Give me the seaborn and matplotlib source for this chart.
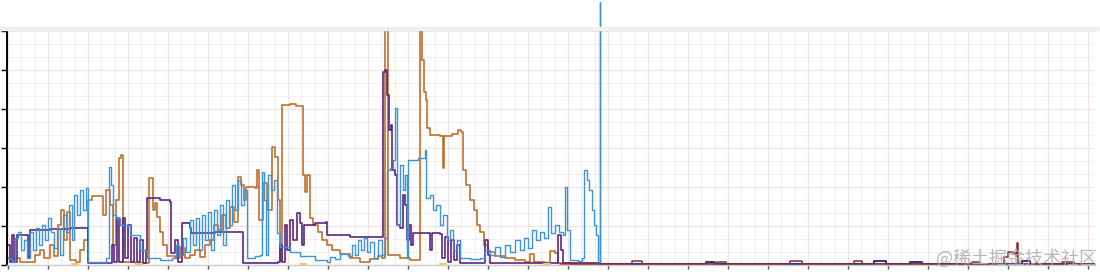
import numpy as np
import pandas as pd
import matplotlib
matplotlib.use("Agg")
import matplotlib.pyplot as plt
from matplotlib.ticker import MultipleLocator
from matplotlib.patches import Rectangle
import seaborn as sns

# ---------------- data ----------------
orange_x = [0, 3, 6.25, 6.75, 8, 9, 10.5, 11.5, 12.5, 13.25, 14, 14.75, 15.5, 17, 18, 19, 20, 21, 23, 23.75,
            24.5, 25.5, 26.25, 27, 27.75, 28.25, 28.75, 31.75, 34.75, 35.25, 35.75, 36.25, 36.75, 37.25, 38,
            38.75, 39.75, 41.75, 43, 44.25, 45.5, 46.75, 48, 49.25, 50.5, 51.5, 52.5, 53.5, 54.5, 55.5, 56.5,
            57.5, 58.25, 59, 59.5, 61.75, 62.25, 62.75, 63.75, 64.75, 66, 66.75, 67.5, 68, 68.5, 70.5, 72,
            73.5, 73.75, 74.25, 74.75, 75.5, 76.25, 77.5, 78.5, 79.75, 81, 83, 85.5, 88, 90.5, 92.5, 93.5,
            94.25, 94.75, 95, 98, 100.5, 102.5, 103, 103.5, 104, 104.5, 104.75, 105.5, 108, 108.75, 109, 111,
            112.5, 113.25, 113.75, 114.5, 115.5, 116.5, 117.25, 118, 119, 120, 121.75, 124.25, 126.75, 129.25,
            130.5, 131.5, 134.25, 135.5, 136.75, 137.5, 140.5, 148, 271.75]
orange_y = [1.8, 0.8, 0.8, 2.6, 3.8, 1.8, 5.1, 2.3, 10.3, 14.1, 6.4, 13.6, 1.3, 0.8, 3.8, 6.4, 16.7, 17.7, 17.7,
            12.8, 19.2, 15.4, 5.1, 16.7, 27.4, 28.2, 0.8, 0.5, 0.5, 22.3, 22.3, 14.1, 15.9, 12.3, 8.5, 5.1, 2.3,
            1.8, 4.4, 1.8, 2.6, 3.8, 2.1, 5.1, 6.4, 10.3, 9.0, 12.8, 9.5, 14.9, 11.0, 22.6, 20.5, 16.7, 20.0,
            19.7, 24.4, 11.5, 21.0, 14.1, 30.3, 27.7, 16.7, 1.3, 41.0, 41.3, 40.8, 40.8, 23.1, 18.7, 23.1, 12.1,
            10.3, 8.5, 6.4, 5.1, 3.8, 2.8, 1.8, 0.8, 1.5, 2.3, 1.8, 60.5, 60.5, 2.6, 1.8, 1.3, 1.3, 60.5, 52.6,
            44.4, 42.3, 35.1, 33.3, 33.1, 24.9, 33.1, 33.6, 34.6, 34.1, 24.4, 20.5, 16.7, 14.1, 10.3, 8.5, 5.1,
            3.3, 2.3, 1.8, 1.3, 0.8, 2.8, 0.8, 0.5, 3.6, 3.1, 0.5, 0.3, 0.3, 0.3]

blue_x = [0, 1, 1.75, 2.5, 3.25, 4, 4.75, 5.5, 6.25, 7, 7.75, 8.5, 9.25, 10, 10.75, 11.5, 12.25, 13, 13.75,
          14.5, 15.25, 16, 16.5, 17.25, 18, 18.75, 19.5, 20, 23, 24.5, 25.25, 25.75, 26.25, 27, 28, 30.5, 33,
          34.75, 38, 41, 42, 42.75, 43.75, 44.5, 45.5, 46.25, 47, 47.75, 48.5, 49.25, 50, 50.75, 51.5, 52.25,
          53, 53.75, 54.5, 55.25, 56, 56.75, 57.5, 58.25, 59, 59.75, 61.75, 63, 63.5, 64, 64.5, 65, 65.75,
          66.5, 67.25, 68, 70.5, 73, 76.75, 79.75, 80.5, 81.75, 83, 85, 86, 86.75, 87.5, 88.25, 89, 89.75,
          90.5, 91.5, 92.5, 93.5, 94.25, 94.75, 95.5, 96.25, 96.75, 97.25, 98, 98.75, 99.25, 99.75, 100,
          102.5, 104.25, 104.5, 105.5, 106.25, 107, 108, 108.75, 109.75, 110.5, 111.25, 112.25, 113, 115.5,
          118, 119.25, 120.5, 121.75, 123, 124.25, 125.5, 126.75, 128, 129, 130, 131, 132, 133, 134, 135,
          135.75, 136.75, 137.75, 138.75, 139.25, 139.75, 140.5, 142.5, 143.5, 144, 144.75, 145.25, 146,
          146.5, 147, 147.5, 148.1, 148.1, 148.1, 149]
blue_y = [1.8, 0.8, 6.9, 8.5, 3.8, 6.4, 1.8, 8.5, 3.8, 9.5, 5.1, 10.3, 6.4, 12.1, 8.5, 4.4, 9.5, 2.6, 12.8, 8.5,
          15.4, 6.4, 17.9, 12.8, 19.2, 14.1, 19.7, 0.8, 0.8, 1.8, 25.1, 20.5, 12.8, 12.1, 10.3, 7.7, 3.8, 1.8,
          1.3, 1.8, 5.1, 2.6, 6.9, 3.3, 11.5, 5.1, 12.1, 3.8, 12.8, 6.4, 13.6, 3.8, 14.1, 7.7, 15.4, 5.1, 16.7,
          10.3, 20.5, 14.1, 21.8, 15.4, 19.2, 1.8, 2.3, 2.6, 23.8, 16.7, 2.6, 23.1, 19.2, 21.8, 8.2, 4.6, 3.3,
          2.3, 1.3, 0.8, 2.1, 1.5, 2.8, 2.3, 5.1, 2.6, 6.4, 3.8, 6.9, 3.3, 5.9, 1.8, 6.4, 2.6, 6.9, 24.4, 24.9,
          26.9, 40.3, 10.3, 25.6, 19.2, 23.1, 1.8, 26.9, 27.4, 29.5, 17.2, 17.9, 14.1, 15.4, 10.3, 12.8, 6.4,
          9.0, 3.8, 6.4, 1.8, 1.5, 1.8, 3.8, 2.6, 4.6, 2.1, 5.1, 3.3, 6.4, 3.8, 6.9, 4.4, 9.0, 6.4, 8.5, 6.9,
          14.9, 8.2, 10.3, 8.5, 7.7, 20.0, 9.0, 1.3, 1.0, 1.8, 24.4, 21.8, 19.2, 14.1, 10.3, 7.7, 0.0, 67.5,
          0.0, 0.3, 0.3]

purple_x = [0, 0.5, 1, 1.5, 2.25, 4.75, 5, 5.5, 10.5, 15.5, 19.75, 20, 25.5, 26, 26.5, 27.25, 27.75, 28.75,
            29.25, 30, 30.75, 31.5, 32.25, 33, 33.75, 34.5, 34.75, 38, 40.5, 40.75, 41.75, 42.5, 43.5, 45.5,
            45.75, 51.75, 58.5, 58.75, 63, 67.5, 68, 68.5, 69.25, 69.75, 70.5, 71.25, 72.25, 73, 73.5, 74,
            76.75, 79.5, 79.75, 85.5, 93.25, 93.75, 94.25, 94.75, 95.25, 95.75, 96, 96.75, 97.25, 98, 98.75,
            99.25, 99.75, 100.25, 100.75, 101.25, 104.25, 105, 105.5, 106, 108, 108.5, 109.25, 110, 110.75,
            111.5, 112.25, 113, 118.75, 119.25, 120, 120.5, 137, 137.5, 138.25, 138.75, 148]
purple_y = [5.1, 0.8, 7.7, 0.8, 7.7, 7.7, 2.1, 9.0, 9.2, 9.5, 9.5, 0.5, 0.5, 5.1, 0.8, 12.1, 0.8, 12.1, 1.8,
            10.3, 0.8, 6.9, 0.8, 6.4, 0.5, 3.8, 17.2, 16.7, 16.2, 3.1, 6.4, 0.8, 10.8, 9.5, 8.2, 8.5, 8.5, 0.5,
            0.5, 0.8, 5.1, 0.8, 10.3, 3.8, 11.5, 6.4, 13.3, 10.8, 5.1, 10.3, 10.8, 11.0, 7.7, 7.2, 7.2, 49.5,
            50.0, 43.6, 34.6, 35.9, 24.4, 23.1, 10.3, 9.5, 17.9, 15.4, 6.4, 10.3, 5.1, 8.2, 8.2, 8.2, 3.8, 8.2,
            7.9, 1.8, 7.2, 0.8, 6.4, 1.3, 5.1, 0.5, 0.5, 6.4, 2.6, 0.5, 0.5, 7.7, 3.8, 0.5, 0.3]

maroon_x = [138, 155.5, 156, 158, 158.5, 173, 177, 179, 179.5, 195, 195.5, 198, 198.5, 211, 211.5, 213, 213.5,
            240.5, 241, 242.5, 243, 248.5, 249, 250, 251.25, 252, 252.25, 252.5, 263, 263.5, 266, 266.5,
            271.75]
maroon_y = [0.3, 0.3, 1.0, 1.0, 0.3, 0.3, 0.8, 0.8, 0.3, 0.3, 1.0, 1.0, 0.3, 0.3, 1.0, 1.0, 0.3, 0.3, 0.8,
            0.8, 0.3, 0.3, 2.1, 3.3, 3.1, 2.3, 5.6, 0.3, 0.3, 0.8, 0.8, 0.3, 0.3]

navy_x = [148, 174, 174.5, 176, 176.5, 216, 216.5, 219, 219.5, 225, 225.5, 228, 228.5, 253, 253.5, 255, 255.5,
          271.75]
navy_y = [0.2, 0.2, 0.8, 0.8, 0.2, 0.2, 1.0, 1.0, 0.2, 0.2, 0.8, 0.8, 0.2, 0.2, 1.0, 1.0, 0.2, 0.2]

yellow_x = [16, 17.5, 32, 33.5, 73, 74.5, 108, 109.5, 134, 135.5]
yellow_seg = [0, 0, 1, 1, 2, 2, 3, 3, 4, 4]
yellow_y = [0.3] * 10

watermark = "@稀土掘金技术社区"

# ---------------- figure ----------------
sns.set_theme(style="white")
plt.rcParams['font.family'] = ['Noto Sans CJK SC', 'DejaVu Sans']

W, H = 1100, 274
fig = plt.figure(figsize=(W / 100, H / 100), dpi=100)
ax = fig.add_axes([7 / W, 9 / H, (1095 - 7) / W, (265 - 31) / H])

ax.set_xlim(-0.25, 271.75)
ax.set_ylim(0, 60)

ax.xaxis.set_major_locator(MultipleLocator(10))
ax.xaxis.set_minor_locator(MultipleLocator(10 / 3))
ax.yaxis.set_major_locator(MultipleLocator(10))
ax.yaxis.set_minor_locator(MultipleLocator(10 / 3))
ax.grid(which='minor', color='#ededed', lw=0.6, zorder=0)
ax.grid(which='major', color='#efe2e2', lw=0.8, zorder=0)
ax.set_axisbelow(True)

step = dict(sort=False, estimator=None, drawstyle='steps-post')
sns.lineplot(x=orange_x, y=orange_y, ax=ax, color='#c0702e', lw=1.2, **step)
sns.lineplot(x=purple_x, y=purple_y, ax=ax, color='#5b2480', lw=1.2, **step)
sns.lineplot(x=blue_x, y=blue_y, ax=ax, color='#3e92d6', lw=1.0, **step)
sns.lineplot(x=navy_x, y=navy_y, ax=ax, color='#2a3a8c', lw=1.5, **step)
sns.lineplot(x=maroon_x, y=maroon_y, ax=ax, color='#8e2a2a', lw=1.1, **step)
sns.lineplot(x=yellow_x, y=yellow_y, units=yellow_seg, ax=ax, color='#e3d35a', lw=1.6, **step)

# blue spike goes past the top of the plot
ax.lines[2].set_clip_on(False)

ax.set_xlabel('')
ax.set_ylabel('')
ax.tick_params(labelleft=False, labelbottom=False)
ax.tick_params(axis='y', which='major', left=True, length=4, width=1, color='black', direction='out')
ax.tick_params(axis='x', which='major', bottom=True, length=3, width=1, color='#555555', direction='out')
ax.tick_params(which='minor', length=0)

for s in ['top', 'right']:
    ax.spines[s].set_visible(False)
ax.spines['left'].set_color('black')
ax.spines['left'].set_linewidth(1.4)
ax.spines['bottom'].set_color('#cccccc')
ax.spines['bottom'].set_linewidth(1.0)

# light band on top of the chart frame
fig.patches.append(Rectangle((0, (H - 30) / H), 1, 3 / H, transform=fig.transFigure,
                             color='#f0f0f0', zorder=0))

fig.text(1097 / W, (H - 258) / H, watermark, ha='right', va='center', fontsize=13,
         color='#b0b0b0', alpha=0.9, family=['Noto Sans CJK SC', 'DejaVu Sans'])

fig.savefig('out.png', dpi=100)
